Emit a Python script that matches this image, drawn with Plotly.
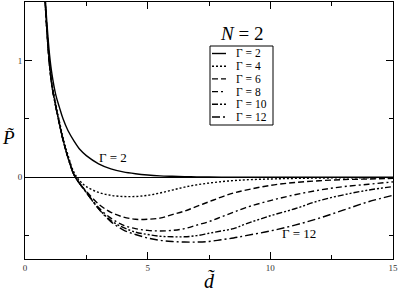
import plotly.graph_objects as go

d = [0.8, 0.9, 1.0, 1.1, 1.25, 1.4, 1.55, 1.75, 2.0, 2.25, 2.5, 3.0, 3.5, 4.0, 4.5,
     5.0, 5.5, 6.0, 6.5, 7.0, 7.5, 8.0, 8.5, 9.0, 10.0, 11.0, 12.0, 13.0, 14.0, 15.0]

p_g2 = [1.62, 1.3, 1.05, 0.88, 0.71, 0.6, 0.5, 0.4, 0.31, 0.235, 0.185, 0.115, 0.072, 0.046, 0.03,
        0.019, 0.012, 0.008, 0.005, 0.003, 0.002, 0.001, 0.0, 0.0, 0.0, 0.0, 0.0, 0.0, 0.0, 0.0]
p_g4 = [1.6, 1.25, 0.98, 0.8, 0.63, 0.48, 0.34, 0.19, 0.04, -0.035, -0.08, -0.13, -0.155, -0.165, -0.165,
        -0.155, -0.135, -0.11, -0.085, -0.065, -0.05, -0.038, -0.029, -0.022, -0.015, -0.01, -0.007, -0.005, -0.004, -0.003]
p_g6 = [1.58, 1.23, 0.96, 0.78, 0.61, 0.46, 0.32, 0.17, 0.02, -0.06, -0.12, -0.23, -0.3, -0.34, -0.36,
        -0.36, -0.35, -0.32, -0.29, -0.25, -0.21, -0.17, -0.135, -0.11, -0.07, -0.045, -0.03, -0.02, -0.015, -0.01]
p_g8 = [1.58, 1.23, 0.96, 0.78, 0.61, 0.46, 0.32, 0.17, 0.02, -0.06, -0.13, -0.26, -0.35, -0.41, -0.44,
        -0.455, -0.46, -0.455, -0.44, -0.41, -0.38, -0.34, -0.3, -0.26, -0.2, -0.15, -0.11, -0.08, -0.06, -0.04]
p_g10 = [1.58, 1.23, 0.96, 0.78, 0.61, 0.46, 0.32, 0.17, 0.02, -0.06, -0.13, -0.27, -0.37, -0.43, -0.47,
         -0.49, -0.505, -0.51, -0.51, -0.5, -0.48, -0.46, -0.44, -0.4, -0.33, -0.27, -0.2, -0.15, -0.11, -0.08]
p_g12 = [1.58, 1.23, 0.96, 0.78, 0.61, 0.46, 0.32, 0.17, 0.02, -0.06, -0.13, -0.27, -0.38, -0.45, -0.49,
         -0.52, -0.54, -0.55, -0.555, -0.555, -0.55, -0.535, -0.52, -0.5, -0.46, -0.41, -0.35, -0.28, -0.21, -0.155]

labels = ["Γ = 2", "Γ = 4", "Γ = 6", "Γ = 8", "Γ = 10", "Γ = 12"]
series = [p_g2, p_g4, p_g6, p_g8, p_g10, p_g12]
dashes = ["solid", "2px,2px", "6px,3px", "6px,3px,2px,3px",
          "6px,2px,2px,2px,2px,2px", "8px,3px,2px,3px"]

FONT = "Liberation Serif"

fig = go.Figure()
for name, p, dash in zip(labels, series, dashes):
    fig.add_trace(go.Scatter(x=d, y=p, mode="lines", name=name,
                             line=dict(color="black", width=1.4, dash=dash, shape="spline")))

# hand-made legend box (small line samples like the original)
L, T, W, H = 25, 2, 368, 257
px = lambda x: (x - L) / W
py = lambda y: (T + H - y) / H
fig.add_shape(type="rect", xref="paper", yref="paper",
              x0=px(210), x1=px(273), y0=py(125), y1=py(46),
              line=dict(color="black", width=1), fillcolor="white")
for i, (name, dash) in enumerate(zip(labels, dashes)):
    yy = 53.5 + 12.7 * i
    fig.add_shape(type="line", xref="paper", yref="paper",
                  x0=px(212), x1=px(226), y0=py(yy), y1=py(yy),
                  line=dict(color="black", width=1.4, dash=dash))
    fig.add_annotation(text=name, xref="paper", yref="paper", x=px(234), y=py(yy),
                       xanchor="left", yanchor="middle", showarrow=False,
                       font=dict(family=FONT, size=11.5, color="black"))

def label(text, x, y, size, ref="paper"):
    fig.add_annotation(text=text, xref=ref, yref=ref, x=x, y=y, showarrow=False,
                       xanchor="center", yanchor="middle",
                       font=dict(family=FONT, size=size, color="black"))

label("<i>N</i> = 2", px(241), py(33), 19)
label("Γ = 2", 3.6, 0.17, 13, ref=None)
label("Γ = 12", 11.15, -0.48, 13, ref=None)
label("<i>P\u0303</i>", px(8), py(137), 19)
label("<i>d\u0303</i>", px(210), py(280), 20)

axis_common = dict(showline=True, linecolor="black", linewidth=1, mirror="ticks",
                   ticks="inside", ticklen=7, tickcolor="black", showgrid=False,
                   automargin=False,
                   tickfont=dict(family=FONT, size=9, color="#333"))
fig.update_xaxes(range=[0, 15], dtick=5, zeroline=False,
                 minor=dict(ticks="inside", ticklen=4, dtick=2.5, tickcolor="black"),
                 **axis_common)
fig.update_yaxes(range=[-0.7, 1.5], dtick=1, zeroline=True, zerolinecolor="black",
                 zerolinewidth=1,
                 minor=dict(ticks="inside", ticklen=4, dtick=0.5, tickcolor="black"),
                 **axis_common)

fig.update_layout(width=399, height=293, showlegend=False,
                  margin=dict(l=L, r=399 - L - W, t=T, b=293 - T - H, autoexpand=False),
                  plot_bgcolor="white", paper_bgcolor="white")

fig.write_html("out.html", config={"displayModeBar": False},
               post_script="document.body.style.margin='0';")
